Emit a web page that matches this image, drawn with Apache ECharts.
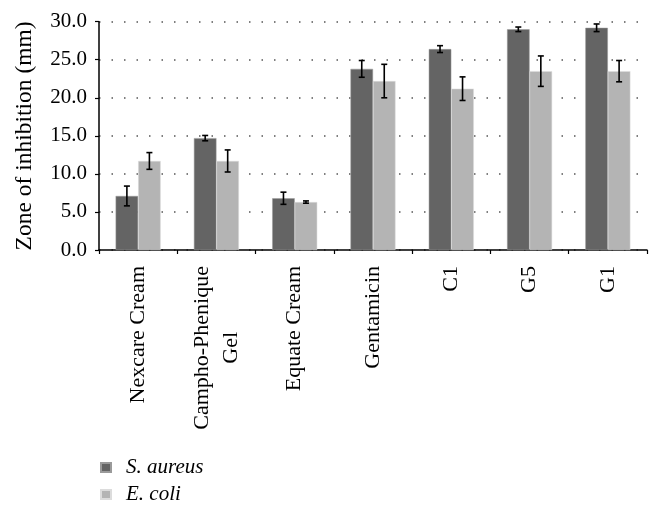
<!DOCTYPE html>
<html>
<head>
<meta charset="utf-8">
<script src="https://cdn.jsdelivr.net/npm/echarts@6/dist/echarts.min.js"></script>
<style>html,body{margin:0;padding:0;background:#fff}#c{width:660px;height:514px}</style>
</head>
<body>
<div id="c"></div>
<script>
const categories = ['Nexcare Cream', 'Campho-Phenique\nGel', 'Equate Cream', 'Gentamicin', 'C1', 'G5', 'G1'];
const saureus = [7.1, 14.7, 6.8, 23.8, 26.4, 29.0, 29.2];
const saureusErr = [1.3, 0.35, 0.8, 1.1, 0.45, 0.3, 0.5];
const ecoli = [11.7, 11.7, 6.3, 22.2, 21.2, 23.5, 23.5];
const ecoliErr = [1.1, 1.45, 0.15, 2.2, 1.55, 2.0, 1.4];
const yTicks = [0, 5, 10, 15, 20, 25, 30];

const FONT = 'Liberation Serif';
const GAP = 0.425;

function errSeries(vals, errs, side) {
  return {
    type: 'custom',
    z: 10,
    silent: true,
    data: vals.map((v, i) => [i, v, errs[i]]),
    renderItem: function (params, api) {
      const i = api.value(0), v = api.value(1), e = api.value(2);
      const band = api.size([1, 0])[0];
      const bw = band * (1 - GAP) / 2;
      const c = api.coord([i, v]);
      const x = c[0] + side * bw / 2;
      const yt = api.coord([i, v + e])[1];
      const yb = api.coord([i, v - e])[1];
      const cap = 3;
      const st = { stroke: '#000', lineWidth: 1.6 };
      return {
        type: 'group',
        children: [
          { type: 'line', shape: { x1: x, y1: yt, x2: x, y2: yb }, style: st },
          { type: 'line', shape: { x1: x - cap, y1: yt, x2: x + cap, y2: yt }, style: st },
          { type: 'line', shape: { x1: x - cap, y1: yb, x2: x + cap, y2: yb }, style: st }
        ]
      };
    }
  };
}

const chart = echarts.init(document.getElementById('c'), null, { renderer: 'canvas' });
chart.setOption({
  animation: false,
  backgroundColor: '#fff',
  grid: { left: 99, right: 13, top: 21.7, bottom: 264, containLabel: false },
  legend: {
    orient: 'vertical',
    left: 95,
    top: 452,
    icon: 'rect',
    itemWidth: 10,
    itemHeight: 9,
    itemGap: 6,
    data: ['S. aureus', 'E. coli'],
    textStyle: { fontFamily: FONT, fontStyle: 'italic', fontSize: 21, color: '#000', lineHeight: 21, padding: [0, 0, 0, 10] }
  },
  xAxis: {
    type: 'category',
    data: categories,
    axisLine: { lineStyle: { color: '#000', width: 1.5 } },
    axisTick: { show: true, length: 4, lineStyle: { color: '#000', width: 1.2 } },
    axisLabel: {
      rotate: 90,
      interval: 0,
      margin: 16,
      fontFamily: FONT,
      fontSize: 22,
      color: '#000',
      lineHeight: 29,
      formatter: function (v) { return v.split('\n').map(s => '{c|' + s + '}').join('\n'); },
      rich: { c: { align: 'center', fontFamily: FONT, fontSize: 22, color: '#000', lineHeight: 29 } }
    },
    splitLine: { show: false }
  },
  yAxis: {
    type: 'value',
    min: 0,
    max: 30,
    interval: 5,
    name: 'Zone of inhibition (mm)',
    nameLocation: 'middle',
    nameGap: 62,
    nameTextStyle: { fontFamily: FONT, fontSize: 23.5, color: '#000' },
    axisLine: { show: true, lineStyle: { color: '#000', width: 1.5 } },
    axisTick: { show: true, length: 4, lineStyle: { color: '#000', width: 1.2 } },
    axisLabel: {
      margin: 12,
      fontFamily: FONT,
      fontSize: 21,
      color: '#000',
      formatter: function (v) { return yTicks.indexOf(v) >= 0 ? v.toFixed(1) : ''; }
    },
    splitLine: { show: true, lineStyle: { color: '#555', width: 1.5, type: [1.5, 11] } }
  },
  series: [
    {
      name: 'S. aureus', type: 'bar', data: saureus, barGap: '0%', barCategoryGap: (GAP * 100) + '%',
      itemStyle: { color: '#646464', borderColor: '#9a9a9a', borderWidth: 0.5 }
    },
    {
      name: 'E. coli', type: 'bar', data: ecoli, barGap: '0%', barCategoryGap: (GAP * 100) + '%',
      itemStyle: { color: '#b4b4b4', borderColor: '#dcdcdc', borderWidth: 0.5 }
    },
    errSeries(saureus, saureusErr, -1),
    errSeries(ecoli, ecoliErr, 1)
  ]
});
</script>
</body>
</html>
